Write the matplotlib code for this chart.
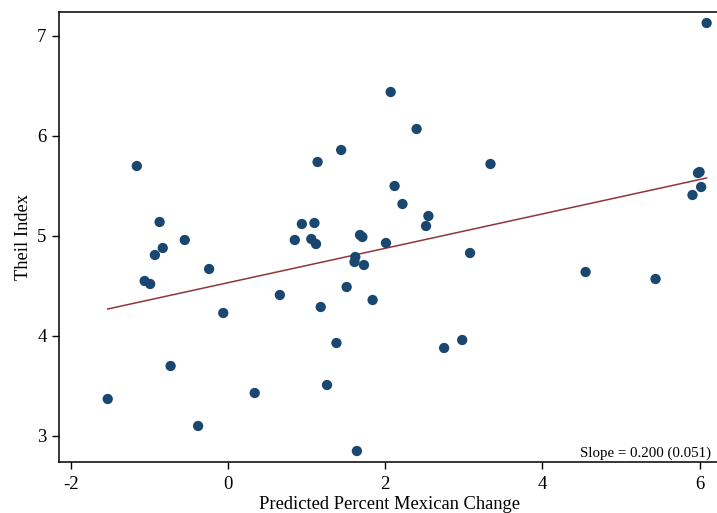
import numpy as np
import matplotlib
matplotlib.use("Agg")
from matplotlib import pyplot as plt

# predicted percent Mexican change vs Theil index
pct_change = [-1.53, -1.16, -1.06, -0.99, -0.93, -0.87, -0.83, -0.73, -0.55, -0.38,
              -0.24, -0.06, 0.34, 0.66, 0.85, 0.94, 1.06, 1.10, 1.12, 1.14,
              1.18, 1.26, 1.38, 1.44, 1.51, 1.61, 1.62, 1.64, 1.68, 1.71,
              1.73, 1.84, 2.01, 2.07, 2.12, 2.22, 2.40, 2.52, 2.55, 2.75,
              2.98, 3.08, 3.34, 4.55, 5.44, 5.91, 5.98, 6.00, 6.02, 6.09]
theil = [3.37, 5.70, 4.55, 4.52, 4.81, 5.14, 4.88, 3.70, 4.96, 3.10,
         4.67, 4.23, 3.43, 4.41, 4.96, 5.12, 4.97, 5.13, 4.92, 5.74,
         4.29, 3.51, 3.93, 5.86, 4.49, 4.74, 4.79, 2.85, 5.01, 4.99,
         4.71, 4.36, 4.93, 6.44, 5.50, 5.32, 6.07, 5.10, 5.20, 3.88,
         3.96, 4.83, 5.72, 4.64, 4.57, 5.41, 5.63, 5.64, 5.49, 7.13]

# fitted line end points
fit_x = [-1.53, 6.09]
fit_y = [4.27, 5.58]

xticks = [-2, 0, 2, 4, 6]
yticks = [3, 4, 5, 6, 7]

plt.rcParams['font.family'] = ['Liberation Serif', 'DejaVu Serif']

fig = plt.figure(figsize=(7.17, 5.13), dpi=100)
ax = fig.add_axes([59 / 717, 51 / 513, 661 / 717, 449.7 / 513])

ax.scatter(pct_change, theil, s=55, color='#1a476f', edgecolors='none', zorder=3)
ax.plot(fit_x, fit_y, color='#90353b', lw=1.1, zorder=2)

ax.set_xlim(-2.15, 6.26)
ax.set_ylim(2.74, 7.237)
ax.set_xticks(xticks)
ax.set_yticks(yticks)
ax.set_xticklabels([str(t) for t in xticks])
ax.set_yticklabels([str(t) for t in yticks])
ax.tick_params(direction='out', length=5, width=1.0, labelsize=13.5, pad=4)
ax.tick_params(axis='x', pad=5)

for s in ax.spines.values():
    s.set_linewidth(1.1)

ax.set_xlabel('Predicted Percent Mexican Change', fontsize=13.3, labelpad=2)
ax.set_ylabel('Theil Index', fontsize=13.3, labelpad=4)

ax.text(6.15, 2.765, 'Slope = 0.200 (0.051)', fontsize=10.7, ha='right', va='bottom')

fig.savefig('out.png', dpi=100)
